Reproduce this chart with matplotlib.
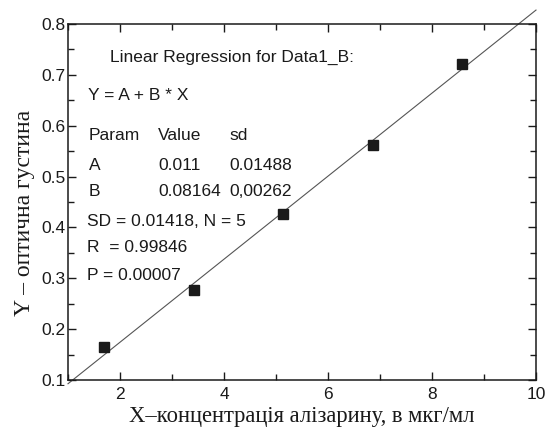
import matplotlib
matplotlib.use("Agg")
import matplotlib.pyplot as plt
import numpy as np
from matplotlib.ticker import MultipleLocator

# measured data points
conc = [1.69, 3.42, 5.13, 6.87, 8.58]
density = [0.164, 0.276, 0.427, 0.562, 0.722]

# regression result shown in the box
coef_a = 0.011
coef_b = 0.08164
fit_x = [1.0, 10.0]

report_lines = [
    ("Linear Regression for Data1_B:", 110, 57),
    ("Y = A + B * X", 88, 95),
    ("SD = 0.01418, N = 5", 87, 222),
    ("R  = 0.99846", 87, 248),
    ("P = 0.00007", 87, 276),
]
table_rows = [
    ["Param", "Value", "sd"],
    ["A", "0.011", "0.01488"],
    ["B", "0.08164", "0,00262"],
]
table_cols = [89, 158, 229]
table_ys = [136, 165, 191]

W, H = 550, 432
fig = plt.figure(figsize=(W / 100, H / 100), dpi=100)
ax = fig.add_axes([68 / W, 1 - 380 / H, (536 - 68) / W, (380 - 24) / H])

fit_y = [coef_a + coef_b * x for x in fit_x]
ax.plot(fit_x, fit_y, color="#555555", lw=0.8, clip_on=False, zorder=2)
ax.plot(conc, density, ls="none", marker="s", ms=6.5, color="#1a1a1a",
        zorder=3, clip_on=False)

ax.set_xlim(1, 10)
ax.set_ylim(0.1, 0.8)
ax.xaxis.set_major_locator(MultipleLocator(2))
ax.xaxis.set_minor_locator(MultipleLocator(1))
ax.yaxis.set_major_locator(MultipleLocator(0.1))
ax.yaxis.set_minor_locator(MultipleLocator(0.05))
ax.set_yticks(np.arange(0.1, 0.81, 0.1))
ax.set_yticklabels([f"{v:.1f}" for v in np.arange(0.1, 0.81, 0.1)])
ax.set_xticks([2, 4, 6, 8, 10])
ax.set_xticklabels(["2", "4", "6", "8", "10"])

ax.tick_params(which="both", direction="in", top=True, right=True,
               color="#1a1a1a", width=1.0)
ax.tick_params(which="major", length=6)
ax.tick_params(which="minor", length=4)
ax.tick_params(axis="x", pad=5)
ax.tick_params(axis="y", pad=2)
for lab in ax.get_xticklabels() + ax.get_yticklabels():
    lab.set_fontfamily("Liberation Sans")
    lab.set_fontsize(12.5)
    lab.set_color("#1a1a1a")
for sp in ax.spines.values():
    sp.set_linewidth(1.1)
    sp.set_color("#1a1a1a")

ax.set_xlabel("X–концентрація алізарину, в мкг/мл", family="Liberation Serif",
              fontsize=16.3, color="#1a1a1a", labelpad=3)
ax.set_ylabel("Y – оптична густина", family="Liberation Serif",
              fontsize=17, color="#1a1a1a")
ax.yaxis.set_label_coords(-0.07, 0.47)


def px(x, y):
    return x / W, 1 - y / H


for text, x, y in report_lines:
    fig.text(*px(x, y), text, family="Liberation Sans", fontsize=12.5,
             va="center", ha="left", color="#1a1a1a")
for row, y in zip(table_rows, table_ys):
    for cell, x in zip(row, table_cols):
        fig.text(*px(x, y), cell, family="Liberation Sans", fontsize=12.5,
                 va="center", ha="left", color="#1a1a1a")

fig.savefig("out.png", dpi=100)
